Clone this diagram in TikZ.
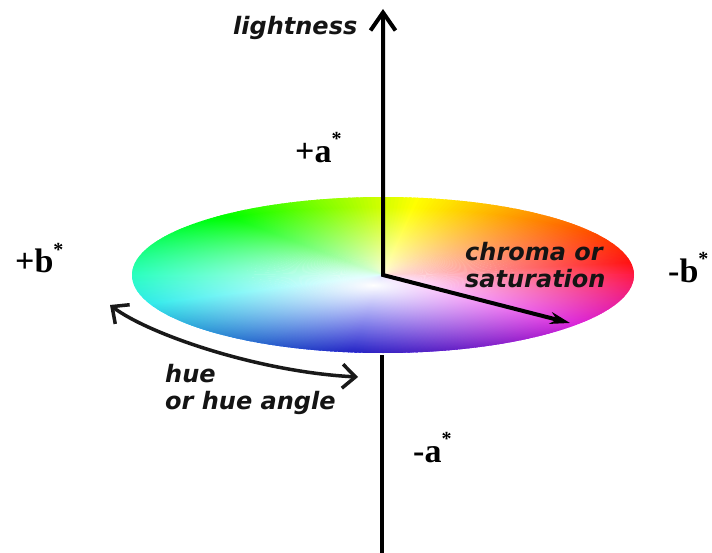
\documentclass[tikz,border=0pt]{standalone}
\usepackage{fontspec}
\usetikzlibrary{arrows.meta,fadings}
\newfontfamily\djv{DejaVu Sans}
\newfontfamily\tms{Liberation Serif}
\tikzfading[name=whitecenter, inner color=transparent!0, outer color=transparent!100]
\tikzfading[name=bottomdark, top color=transparent!100, bottom color=transparent!72]
\newcommand\sstar{\raisebox{17pt}{\fontsize{20}{20}\selectfont *}}
\begin{document}
\begin{tikzpicture}[x=1pt,y=1pt,
  axis/.style={line width=4pt, black},
  lab/.style={font=\djv\bfseries\itshape\fontsize{24}{27}\selectfont, inner sep=0pt, align=left, text=black!92, anchor=north west},
  ab/.style={font=\tms\bfseries\fontsize{34}{34}\selectfont, inner sep=0pt, anchor=base west},
  huearrow/.style={line width=3.5pt, black!90, {Straight Barb[length=13pt,width=24pt]}-{Straight Barb[length=13pt,width=24pt]}}
]
\useasboundingbox[fill=white] (0,-553) rectangle (712,0);
\coordinate (c) at (383,-275);
% hue disk
\begin{scope}[shift={(383,-275)}]
  \clip (0,0) ellipse [x radius=251, y radius=78];
  \foreach \a in {0,...,359} {
    \pgfmathsetmacro\h{\a<8 ? 300+(\a+38)/46*60 : (\a<81 ? (\a-8)/73*60 : (\a<131 ? 60+(\a-81)/50*60 : (\a<200 ? 120+(\a-131)/69*60 : (\a<262 ? 180+(\a-200)/62*60 : (\a<322 ? 240+(\a-262)/60*60 : 300+(\a-322)/46*60)))))}
    \pgfmathsetmacro\hh{mod(\h+360,360)/360}
    \definecolor{hc}{hsb}{\hh,1,1}
    \fill[hc] (0,0) -- ({270*cos(\a)},{90*sin(\a)}) -- ({270*cos(\a+1.6)},{90*sin(\a+1.6)}) -- cycle;
  }
  \fill[black, path fading=bottomdark] (-260,0) rectangle (260,-80);
  \fill[white, path fading=whitecenter] (-10,-10) ellipse [x radius=290, y radius=78];
\end{scope}
% axes
\coordinate (top) at (383,-9);
\coordinate (ch) at (570,-323);
\coordinate (bs) at (382,-355);
\coordinate (bot) at (382,-553);
\draw[line width=4pt, line join=miter, {Straight Barb[length=18pt,width=25pt]}-{Stealth[length=20pt,width=12pt]}] (top) -- (c) -- (ch);
\draw[axis] (bs) -- (bot);
% hue arrow
\coordinate (h1) at (110,-305);
\coordinate (h2) at (358,-377);
\draw[huearrow] (h1) .. controls (150,-335) and (260,-372) .. (h2);
% labels
\node[lab, anchor=base west] (light) at (233,-35) {lightness};
\node[lab] (chroma) at (465,-242) {chroma or\\saturation};
\node[lab] (hue) at (165,-364) {hue\\or hue angle};
\node[ab] (pa) at (295,-163) {+a\sstar};
\node[ab] (pb) at (15,-273) {+b\sstar};
\node[ab] (mb) at (668,-283) {-b\sstar};
\node[ab] (ma) at (413,-462) {-a\sstar};
\end{tikzpicture}
\end{document}
